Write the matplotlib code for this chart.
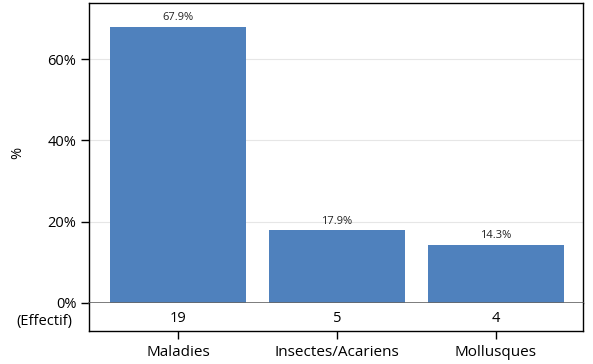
import matplotlib
matplotlib.use("Agg")
import matplotlib.pyplot as plt

plt.rcParams['font.family'] = ['Open Sans', 'DejaVu Sans']

categories = ["Maladies", "Insectes/Acariens", "Mollusques"]
percents = [67.9, 17.9, 14.3]
counts = [19, 5, 4]
yticks = [0, 20, 40, 60]

W, H = 593, 364
fig = plt.figure(figsize=(W / 100, H / 100), dpi=100)
ax = fig.add_axes([89 / W, (H - 303) / H, 494 / W, 300 / H])
tab = fig.add_axes([89 / W, (H - 331) / H, 494 / W, 28 / H])

x = list(range(len(categories)))
ax.bar(x, percents, width=0.855, color="#4f81bd", zorder=2)
for xi, p in zip(x, percents):
    ax.text(xi, p + 0.9, f"{p:.1f}%", ha="center", va="bottom", fontsize=8, color="#222222")

ax.set_xlim(-0.56, 2.55)
ax.set_ylim(0, 73.8)
ax.set_yticks(yticks)
ax.set_yticklabels([f"{t}%" for t in yticks], fontsize=10.5)
ax.tick_params(axis="y", direction="out", length=6, width=1, pad=3)
ax.set_xticks([])
ax.grid(axis="y", color="#e6e6e6", linewidth=0.8, zorder=0)
ax.set_ylabel("%", fontsize=10.5, labelpad=16)
for s in ["top", "left", "right"]:
    ax.spines[s].set_color("black")
    ax.spines[s].set_linewidth(1)
ax.spines["bottom"].set_color("#666666")
ax.spines["bottom"].set_linewidth(1.2)

tab.set_xlim(-0.56, 2.55)
tab.set_ylim(0, 1)
for xi, c in zip(x, counts):
    tab.text(xi, 0.45, str(c), ha="center", va="center", fontsize=10.5)
tab.set_yticks([0.4])
tab.set_yticklabels(["(Effectif)"], fontsize=10.5)
tab.tick_params(axis="y", length=0, pad=12)
tab.set_xticks(x)
tab.set_xticklabels(categories, fontsize=11)
tab.tick_params(axis="x", direction="out", length=6, width=1, pad=4)
tab.spines["top"].set_visible(False)
for s in ["bottom", "left", "right"]:
    tab.spines[s].set_color("black")
    tab.spines[s].set_linewidth(1)

fig.savefig("out.png", dpi=100)
